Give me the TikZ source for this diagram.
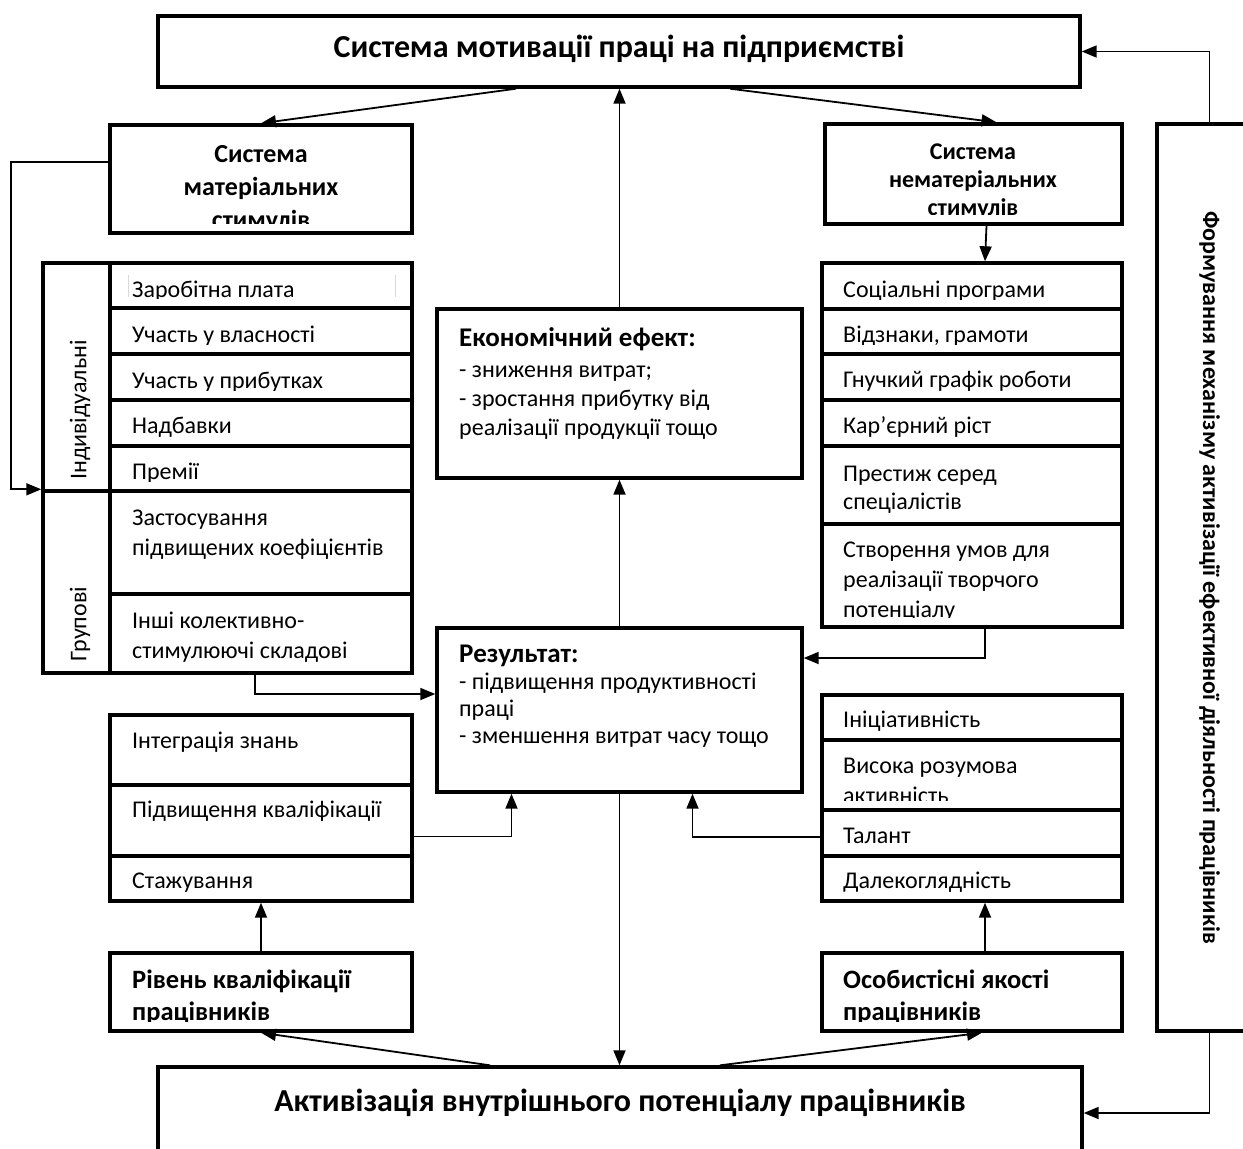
\documentclass[tikz,border=0pt]{standalone}
\usepackage{fontspec}
\setmainfont{Carlito}
\usetikzlibrary{fit,arrows.meta}

\tikzset{
  box/.style={draw, line width=3.4pt, inner sep=0pt},
  conn/.style={line width=1.8pt, -{Triangle[length=15pt,width=12pt]}},
  txt/.style={inner sep=0pt, align=left, anchor=north west, yshift=22pt,
    font=\fontsize{24}{30}\selectfont},
  ttl/.style={txt, font=\fontsize{26.5}{32}\selectfont\bfseries},
  ctr/.style={ttl, align=center, anchor=north, font=\fontsize{26}{33}\selectfont\bfseries},
  side/.style={inner sep=0pt, font=\fontsize{24}{28}\selectfont},
}

\begin{document}
\begin{tikzpicture}[x=1pt,y=-1pt]
		\useasboundingbox (0,0) rectangle (1243,1149);
		\def\cliptext#1#2#3#4#5{\begin{scope}
			\clip ([yshift=11pt]#2.south west) rectangle (#2.north east);
			\node[#1] (#3) at (#4) {\rule{0pt}{22pt}#5};
		\end{scope}}
		\node[box, fit={(158,16) (1080,87)}] (top) {};
		\node[anchor=base, inner sep=0pt, font=\fontsize{32}{38}\selectfont\bfseries] (toptx) at (619,57) {Система мотивації праці на підприємстві};
		\node[box, fit={(110,125) (412,233)}] (mat) {};
		\cliptext{ctr}{mat}{mattx}{261,162}{Система\\матеріальних\\стимулів}
		\node[box, fit={(825,124) (1122,224)}] (nonmat) {};
		\cliptext{ctr, font=\fontsize{24}{28}\selectfont\bfseries}{nonmat}{nonmattx}{973,159}{Система\\нематеріальних\\стимулів}
		\node[box, fit={(1157,124) (1262,1031)}] (form) {};
		\node[rotate=-90, inner sep=0pt, font=\fontsize{24}{28}\selectfont\bfseries] (formtx) at (form.center) {Формування механізму активізації ефективної діяльності працівників};
		\node[box, fit={(43,263) (110,491)}] (indiv) {};
		\node[box, fit={(43,491) (110,673)}] (group) {};
		\node[side, rotate=90] (indivtx) at (80,410) {Індивідуальні};
		\node[side, rotate=90] (grouptx) at (80,624) {Групові};
		\node[box, fit={(110,263) (412,308)}] (pay) {};
		\node[box, fit={(110,308) (412,354)}] (own) {};
		\node[box, fit={(110,354) (412,400)}] (profit) {};
		\node[box, fit={(110,400) (412,446)}] (bonus) {};
		\node[box, fit={(110,446) (412,491)}] (prem) {};
		\node[box, fit={(110,491) (412,594)}] (coef) {};
		\node[box, fit={(110,594) (412,673)}] (coll) {};
		\cliptext{txt}{pay}{paytx}{132,297}{Заробітна плата}
		\draw[gray!30, line width=1pt] (128,275) -- (128,297) (395,275) -- (395,297);
		\cliptext{txt}{own}{owntx}{132,342}{Участь у власності}
		\cliptext{txt}{profit}{profittx}{132,388}{Участь у прибутках}
		\cliptext{txt}{bonus}{bonustx}{132,433}{Надбавки}
		\cliptext{txt}{prem}{premtx}{132,479}{Премії}
		\cliptext{txt}{coef}{coeftx}{132,525}{Застосування\\підвищених коефіцієнтів}
		\cliptext{txt}{coll}{colltx}{132,628}{Інші колективно-\\стимулюючі складові}
		\node[box, fit={(822,263) (1122,309)}] (soc) {};
		\node[box, fit={(822,309) (1122,354)}] (award) {};
		\node[box, fit={(822,354) (1122,400)}] (flex) {};
		\node[box, fit={(822,400) (1122,446)}] (career) {};
		\node[box, fit={(822,446) (1122,524)}] (prest) {};
		\node[box, fit={(822,524) (1122,627)}] (creat) {};
		\cliptext{txt}{soc}{soctx}{843,297}{Соціальні програми}
		\cliptext{txt}{award}{awardtx}{843,342}{Відзнаки, грамоти}
		\cliptext{txt}{flex}{flextx}{843,387}{Гнучкий графік роботи}
		\cliptext{txt}{career}{careertx}{843,433}{Кар’єрний ріст}
		\cliptext{txt, font=\fontsize{24}{28}\selectfont}{prest}{presttx}{843,481}{Престиж серед\\спеціалістів}
		\cliptext{txt}{creat}{creattx}{843,557}{Створення умов для\\реалізації творчого\\потенціалу}
		\node[box, fit={(437,309) (802,478)}] (ecof) {};
		\node[txt, font=\fontsize{24}{29}\selectfont] (ecoftx) at (459,346) {\rule{0pt}{22pt}\textbf{\fontsize{27}{29}\selectfont Економічний ефект:}\\[2pt]- зниження витрат;\\- зростання прибутку від\\реалізації продукції тощо};
		\node[box, fit={(437,628) (802,792)}] (res) {};
		\node[txt, font=\fontsize{24}{27}\selectfont] (restx) at (459,662) {\rule{0pt}{22pt}\textbf{\fontsize{27}{27}\selectfont Результат:}\\- підвищення продуктивності\\праці\\- зменшення витрат часу тощо};
		\node[box, fit={(110,715) (412,785)}] (integ) {};
		\node[box, fit={(110,785) (412,856)}] (qualif) {};
		\node[box, fit={(110,856) (412,901)}] (intern) {};
		\cliptext{txt}{integ}{integtx}{132,748}{Інтеграція знань}
		\cliptext{txt}{qualif}{qualiftx}{132,817}{Підвищення кваліфікації}
		\cliptext{txt}{intern}{interntx}{132,888}{Стажування}
		\node[box, fit={(822,695) (1122,740)}] (init) {};
		\node[box, fit={(822,740) (1122,810)}] (mind) {};
		\node[box, fit={(822,810) (1122,856)}] (talent) {};
		\node[box, fit={(822,856) (1122,901)}] (vision) {};
		\cliptext{txt}{init}{inittx}{843,727}{Ініціативність}
		\cliptext{txt}{mind}{mindtx}{843,773}{Висока розумова\\активність}
		\cliptext{txt}{talent}{talenttx}{843,843}{Талант}
		\cliptext{txt}{vision}{visiontx}{843,888}{Далекоглядність}
		\node[box, fit={(110,953) (412,1031)}] (level) {};
		\node[box, fit={(822,953) (1122,1031)}] (pers) {};
		\cliptext{ttl}{level}{leveltx}{132,988}{Рівень кваліфікації\\працівників}
		\cliptext{ttl}{pers}{perstx}{843,988}{Особистісні якості\\працівників}
		\node[box, fit={(158,1067) (1082,1159)}] (act) {};
		\node[anchor=base, inner sep=0pt, font=\fontsize{32}{38}\selectfont\bfseries] (acttx) at (620,1111) {Активізація внутрішнього потенціалу працівників};
		\draw[conn] ([xshift=-103pt]top.south) -- (mat.north);
		\draw[conn] ([xshift=111pt]top.south) -- ([xshift=23pt]nonmat.north);
		\draw[conn] (ecof.north) -- (ecof.north |- top.south);
		\draw[conn] (res.north) -- (ecof.south);
		\draw[conn] (res.south) -- (res.south |- act.north);
		\draw[conn] ([xshift=-130pt]act.north) -- (level.south);
		\draw[conn] ([xshift=100pt]act.north) -- ([xshift=10pt]pers.south);
		\draw[conn] (level.north) -- (intern.south);
		\draw[conn] ([xshift=13pt]pers.north) -- ([xshift=13pt]vision.south);
		\draw[conn] ([yshift=-16pt]qualif.east) -| ([xshift=-108pt]res.south);
		\draw[conn] ([yshift=-4pt]talent.west) -| ([xshift=73pt]res.south);
		\draw[conn] ([xshift=-6pt]coll.south) |- ([yshift=16pt]res.west);
		\draw[conn] ([xshift=13pt]creat.south) |- ([yshift=52pt]res.east);
		\draw[conn] ([xshift=13pt]nonmat.south) -- ([xshift=13pt]soc.north);
		\draw[conn] ([yshift=17pt]mat.west) -- ++(-97,0) |- (group.north west);
		\draw[conn] (form.north) |- (top.east);
		\draw[conn] (form.south) |- (act.east);
\end{tikzpicture}
\end{document}
